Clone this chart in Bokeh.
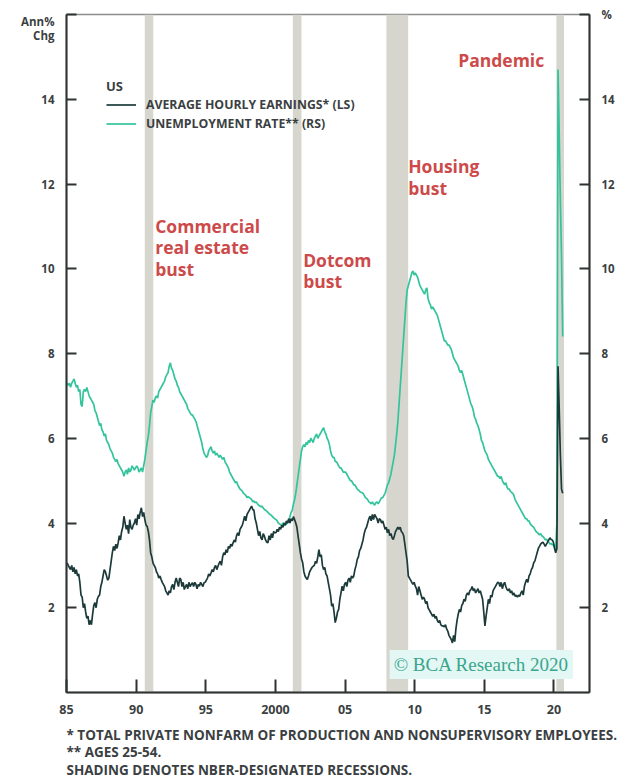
from bokeh.plotting import figure
from bokeh.models import (Range1d, LinearAxis, FixedTicker, Label, Legend, LegendItem,
                          BoxAnnotation, Title)
from bokeh.embed import file_html
from bokeh.resources import INLINE

# ---- data, monthly from Jan 1985 ----
start_year = 1985
earnings = [
    3.06, 3.0, 2.95, 2.9, 3.0, 2.85, 2.95, 2.8, 2.9, 2.75, 2.8, 2.6,      # 1985
    2.3, 2.25, 2.0, 2.1, 1.9, 1.75, 1.8, 1.6, 1.7, 1.6, 1.85, 2.05,       # 1986
    2.12, 2.0, 2.2, 2.27, 2.3, 2.5, 2.6, 2.75, 2.9, 2.85, 2.75, 2.65,     # 1987
    2.7, 2.9, 3.1, 3.3, 3.45, 3.35, 3.5, 3.4, 3.53, 3.7, 3.6, 3.8,        # 1988
    3.9, 4.16, 4.0, 3.85, 3.95, 3.75, 4.08, 3.9, 3.85, 3.95, 4.0, 4.1,    # 1989
    3.95, 4.2, 4.1, 4.25, 4.36, 4.15, 4.25, 4.08, 3.95, 3.92, 3.8, 3.6,   # 1990
    3.3, 3.2, 3.06, 3.0, 2.95, 2.85, 2.8, 2.7, 2.75, 2.67, 2.6, 2.55,     # 1991
    2.5, 2.4, 2.35, 2.3, 2.4, 2.35, 2.5, 2.55, 2.43, 2.6, 2.7, 2.6,       # 1992
    2.5, 2.7, 2.67, 2.5, 2.6, 2.43, 2.5, 2.55, 2.45, 2.6, 2.5, 2.55,      # 1993
    2.59, 2.5, 2.6, 2.55, 2.45, 2.55, 2.51, 2.6, 2.55, 2.5, 2.59, 2.6,    # 1994
    2.65, 2.7, 2.8, 2.75, 2.82, 2.9, 2.85, 2.95, 3.0, 2.9, 2.98, 3.05,    # 1995
    3.1, 3.0, 3.2, 3.3, 3.25, 3.37, 3.3, 3.45, 3.4, 3.5, 3.45, 3.53,      # 1996
    3.6, 3.55, 3.7, 3.77, 3.7, 3.85, 3.9, 3.95, 4.05, 4.16, 4.05, 4.2,    # 1997
    4.25, 4.3, 4.35, 4.4, 4.32, 4.3, 4.1, 4.0, 3.85, 3.7, 3.8, 3.65,      # 1998
    3.6, 3.75, 3.69, 3.6, 3.55, 3.53, 3.7, 3.6, 3.75, 3.65, 3.8, 3.77,    # 1999
    3.77, 3.85, 3.8, 3.9, 3.85, 3.95, 3.9, 4.0, 3.95, 4.05, 4.0, 4.1,     # 2000
    4.0, 4.1, 4.05, 4.15, 4.08, 4.0, 3.9, 3.69, 3.5, 3.3, 3.15, 3.06,     # 2001
    2.85, 2.75, 2.7, 2.67, 2.75, 2.85, 2.9, 2.95, 2.98, 3.0, 3.1, 3.05,   # 2002
    3.2, 3.37, 3.2, 3.25, 3.0, 2.9, 2.95, 2.8, 2.75, 2.6, 2.45, 2.3,      # 2003
    2.04, 2.1, 1.9, 1.65, 1.75, 1.9, 1.96, 2.2, 2.35, 2.51, 2.4, 2.55,    # 2004
    2.6, 2.5, 2.65, 2.7, 2.6, 2.75, 2.7, 2.75, 2.9, 3.0, 3.14, 3.2,       # 2005
    3.35, 3.4, 3.5, 3.6, 3.75, 3.85, 3.9, 4.0, 4.1, 4.16, 4.05, 4.2,      # 2006
    4.08, 4.2, 4.15, 4.1, 4.0, 4.1, 4.08, 4.0, 4.05, 3.95, 3.85, 3.9,     # 2007
    3.77, 3.85, 3.7, 3.75, 3.65, 3.61, 3.7, 3.8, 3.85, 3.9, 3.85, 3.9,    # 2008
    3.8, 3.77, 3.7, 3.5, 3.3, 3.1, 2.75, 2.7, 2.65, 2.6, 2.55, 2.6,       # 2009
    2.51, 2.45, 2.3, 2.5, 2.4, 2.3, 2.2, 2.25, 2.2, 2.1, 2.15, 2.0,       # 2010
    1.95, 1.9, 1.85, 1.8, 1.85, 1.75, 1.8, 1.7, 1.65, 1.7, 1.6, 1.57,     # 2011
    1.57, 1.55, 1.6, 1.5, 1.45, 1.35, 1.3, 1.25, 1.17, 1.35, 1.2, 1.5,    # 2012
    1.7, 1.85, 1.96, 1.9, 2.05, 2.1, 2.2, 2.15, 2.3, 2.35, 2.3, 2.4,      # 2013
    2.43, 2.5, 2.4, 2.45, 2.35, 2.4, 2.45, 2.35, 2.4, 2.3, 2.2, 1.9,      # 2014
    1.57, 1.8, 2.0, 2.2, 2.1, 2.3, 2.25, 2.4, 2.45, 2.5, 2.55, 2.6,       # 2015
    2.59, 2.5, 2.6, 2.45, 2.55, 2.6, 2.5, 2.43, 2.4, 2.45, 2.35, 2.4,     # 2016
    2.3, 2.35, 2.27, 2.3, 2.25, 2.3, 2.27, 2.35, 2.4, 2.3, 2.5, 2.6,      # 2017
    2.67, 2.6, 2.75, 2.8, 2.9, 2.95, 3.06, 3.1, 3.2, 3.3, 3.4, 3.45,      # 2018
    3.5, 3.53, 3.55, 3.5, 3.45, 3.5, 3.55, 3.6, 3.65, 3.61, 3.6, 3.55,    # 2019
    3.4, 3.3, 3.4, 7.7, 6.7, 5.6, 4.8, 4.7,                               # 2020
]
unemployment = [
    7.3, 7.25, 7.3, 7.2, 7.3, 7.35, 7.4, 7.3, 7.2, 7.25, 7.1, 7.15,       # 1985
    6.8, 6.75, 7.1, 7.15, 7.1, 7.2, 7.1, 7.0, 6.95, 6.9, 6.85, 6.8,       # 1986
    6.65, 6.6, 6.5, 6.4, 6.3, 6.35, 6.2, 6.15, 6.05, 6.1, 5.95, 5.9,      # 1987
    5.85, 5.75, 5.7, 5.65, 5.55, 5.5, 5.45, 5.5, 5.4, 5.35, 5.3, 5.25,    # 1988
    5.2, 5.1, 5.2, 5.25, 5.15, 5.3, 5.2, 5.25, 5.35, 5.3, 5.25, 5.3,      # 1989
    5.35, 5.3, 5.2, 5.25, 5.3, 5.2, 5.35, 5.5, 5.7, 5.9, 6.05, 6.3,       # 1990
    6.6, 6.75, 6.9, 6.85, 6.95, 7.0, 6.95, 7.1, 7.15, 7.2, 7.25, 7.3,     # 1991
    7.35, 7.45, 7.5, 7.55, 7.7, 7.78, 7.65, 7.6, 7.5, 7.4, 7.35, 7.25,    # 1992
    7.2, 7.1, 7.05, 7.0, 6.95, 6.9, 6.85, 6.8, 6.7, 6.65, 6.6, 6.55,      # 1993
    6.55, 6.5, 6.45, 6.4, 6.3, 6.2, 6.1, 6.0, 5.9, 5.75, 5.65, 5.6,       # 1994
    5.55, 5.58, 5.7, 5.75, 5.8, 5.7, 5.65, 5.7, 5.6, 5.65, 5.6, 5.55,     # 1995
    5.6, 5.55, 5.5, 5.55, 5.45, 5.4, 5.35, 5.3, 5.2, 5.15, 5.1, 5.05,     # 1996
    5.0, 4.95, 4.98, 4.9, 4.85, 4.8, 4.78, 4.75, 4.7, 4.68, 4.65, 4.6,    # 1997
    4.62, 4.6, 4.58, 4.55, 4.5, 4.52, 4.48, 4.5, 4.45, 4.42, 4.4, 4.38,   # 1998
    4.4, 4.35, 4.32, 4.3, 4.28, 4.25, 4.22, 4.2, 4.18, 4.15, 4.12, 4.1,   # 1999
    4.08, 4.05, 4.0, 3.98, 3.96, 3.95, 4.0, 3.97, 3.95, 3.98, 4.0, 4.05,  # 2000
    4.15, 4.25, 4.3, 4.45, 4.55, 4.7, 4.9, 5.1, 5.3, 5.5, 5.7, 5.8,       # 2001
    5.85, 5.8, 5.9, 5.85, 5.95, 5.9, 6.0, 5.95, 5.9, 6.0, 6.05, 6.1,      # 2002
    6.0, 6.05, 6.1, 6.15, 6.2, 6.25, 6.15, 6.1, 6.0, 5.95, 5.85, 5.7,     # 2003
    5.6, 5.55, 5.55, 5.45, 5.45, 5.4, 5.35, 5.3, 5.3, 5.25, 5.2, 5.2,     # 2004
    5.2, 5.15, 5.1, 5.05, 5.0, 5.0, 4.95, 4.9, 4.9, 4.85, 4.8, 4.78,      # 2005
    4.75, 4.72, 4.72, 4.7, 4.65, 4.6, 4.58, 4.55, 4.5, 4.48, 4.45, 4.5,   # 2006
    4.45, 4.42, 4.48, 4.5, 4.45, 4.5, 4.55, 4.6, 4.6, 4.65, 4.7, 4.8,     # 2007
    4.9, 4.95, 5.05, 5.15, 5.3, 5.45, 5.6, 5.85, 6.1, 6.4, 6.8, 7.2,      # 2008
    7.6, 8.0, 8.4, 8.8, 9.2, 9.5, 9.6, 9.7, 9.8, 9.9, 9.95, 9.85,         # 2009
    9.9, 9.85, 9.8, 9.7, 9.6, 9.55, 9.5, 9.45, 9.4, 9.5, 9.55, 9.3,       # 2010
    9.2, 9.15, 9.05, 9.1, 9.05, 9.0, 8.95, 8.9, 8.8, 8.7, 8.6, 8.5,       # 2011
    8.4, 8.3, 8.3, 8.25, 8.2, 8.2, 8.15, 8.1, 8.0, 7.9, 7.85, 7.8,        # 2012
    7.75, 7.7, 7.6, 7.55, 7.6, 7.5, 7.4, 7.3, 7.2, 7.1, 7.0, 6.9,         # 2013
    6.8, 6.75, 6.65, 6.5, 6.45, 6.35, 6.3, 6.2, 6.1, 5.95, 5.9, 5.8,      # 2014
    5.7, 5.65, 5.6, 5.5, 5.45, 5.4, 5.35, 5.3, 5.25, 5.2, 5.15, 5.1,      # 2015
    5.1, 5.05, 5.1, 5.0, 4.95, 4.9, 4.95, 4.85, 4.8, 4.8, 4.75, 4.72,     # 2016
    4.7, 4.65, 4.55, 4.5, 4.45, 4.4, 4.35, 4.3, 4.25, 4.2, 4.15, 4.1,     # 2017
    4.1, 4.05, 4.05, 3.98, 3.95, 3.92, 3.9, 3.85, 3.8, 3.78, 3.75, 3.72,  # 2018
    3.75, 3.7, 3.68, 3.65, 3.6, 3.62, 3.58, 3.55, 3.5, 3.52, 3.48, 3.5,   # 2019
    3.42, 3.38, 4.0, 14.7, 13.2, 11.6, 10.3, 8.4,                         # 2020
]
recession_start = [1990.62, 2001.25, 2007.97, 2020.17]
recession_end = [1991.23, 2001.87, 2009.53, 2020.72]
year_ticks = [1985, 1990, 1995, 2000, 2005, 2010, 2015, 2020]
year_labels = ["85", "90", "95", "2000", "05", "10", "15", "20"]
value_ticks = [2, 4, 6, 8, 10, 12, 14, 16]
left_unit = " \nAnn%\nChg"
right_unit = "%"
annotations = [
    ("Commercial\nreal estate\nbust", 1991.37, 11.3),
    ("Dotcom\nbust", 2001.99, 10.5),
    ("Housing\nbust", 2009.53, 12.71),
    ("Pandemic", 2013.12, 15.21),
]
copyright_text = "\u00a9 BCA Research 2020"
footnotes = [
    "* TOTAL PRIVATE NONFARM OF PRODUCTION AND NONSUPERVISORY EMPLOYEES.",
    "** AGES 25-54.",
    "SHADING DENOTES NBER-DESIGNATED RECESSIONS.",
]

dates = [start_year + (i + 0.5) / 12 for i in range(len(earnings))]
dates_u = [start_year + (i + 0.5) / 12 for i in range(len(unemployment))]

DARK = "#1c3a3a"
GREEN = "#33c49c"
RED = "#cd4a4a"
TXT = "#3b3f42"
FONT = "Open Sans"

p = figure(frame_width=523, frame_height=678, output_backend="svg", toolbar_location=None,
           x_range=Range1d(1985, 2022.55), y_range=Range1d(0, 16),
           min_border_left=66, min_border_right=30, min_border_top=14,
           min_border_bottom=2, background_fill_color="white",
           border_fill_color="white", y_axis_location=None, x_axis_location=None)
p.grid.visible = False
p.outline_line_color = "#8a8d8d"
p.outline_line_width = 1.5

for s, e in zip(recession_start, recession_end):
    p.add_layout(BoxAnnotation(left=s, right=e, fill_color="#d6d6cf",
                               fill_alpha=1.0, line_color=None, level="underlay"))

r_u = p.line(dates_u, unemployment, line_color=GREEN, line_width=1.7)
r_e = p.line(dates, earnings, line_color=DARK, line_width=1.7)

def style_axis(ax):
    ax.axis_line_color = "#2f3333"
    ax.axis_line_width = 2
    ax.major_tick_line_color = "#2f3333"
    ax.major_tick_line_width = 2
    ax.major_tick_out = 0
    ax.minor_tick_line_color = None
    ax.major_label_text_font = FONT
    ax.major_label_text_font_style = "bold"
    ax.major_label_text_color = TXT
    ax.major_label_text_font_size = "11.5px"

xa = LinearAxis(ticker=FixedTicker(ticks=year_ticks),
                major_label_overrides={t: l for t, l in zip(year_ticks, year_labels)})
style_axis(xa)
xa.major_tick_in = 13
xa.major_label_standoff = 12
xa.major_label_text_font_size = "12.5px"
p.add_layout(xa, "below")

ylab = {t: (left_unit if t == 16 else str(t)) for t in value_ticks}
ya = LinearAxis(ticker=FixedTicker(ticks=value_ticks), major_label_overrides=ylab)
style_axis(ya)
ya.major_tick_in = 10
ya.major_label_standoff = 12
ya.major_label_text_line_height = 0.93
p.add_layout(ya, "left")

ylab2 = {t: (right_unit if t == 16 else str(t)) for t in value_ticks}
ya2 = LinearAxis(ticker=FixedTicker(ticks=value_ticks), major_label_overrides=ylab2)
style_axis(ya2)
ya2.major_tick_in = 10
ya2.major_label_standoff = 12
p.add_layout(ya2, "right")

# legend
legend = Legend(items=[LegendItem(label="AVERAGE HOURLY EARNINGS* (LS)", renderers=[r_e]),
                       LegendItem(label="UNEMPLOYMENT RATE** (RS)", renderers=[r_u])],
                title="US", location=(40, 559), orientation="vertical",
                background_fill_alpha=0, border_line_color=None,
                padding=0, margin=0, spacing=0, glyph_width=30, glyph_height=19,
                label_height=19, label_standoff=10, title_standoff=-6,
                label_text_font=FONT, label_text_font_style="bold",
                label_text_font_size="12.3px", label_text_color=TXT,
                title_text_font=FONT, title_text_font_style="bold",
                title_text_font_size="13px", title_text_color=TXT)
p.add_layout(legend, "center")

for txt, x, y in annotations:
    p.add_layout(Label(x=x, y=y, text=txt, text_align="left", text_baseline="top",
                       text_font=FONT, text_font_style="bold", text_font_size="17.5px",
                       text_color=RED, text_line_height=0.9))

p.add_layout(Label(x=2008.2, y=0.66, text=copyright_text, text_align="left",
                   text_baseline="middle", text_font="Liberation Serif",
                   text_font_size="19px", text_color="#3aa58c", padding=4,
                   background_fill_color="#e3f7f4", background_fill_alpha=1.0))

p.add_layout(Title(text="\n".join(footnotes), align="left", text_font=FONT,
                   text_font_style="bold", text_font_size="13.5px", text_color=TXT,
                   text_line_height=0.98, standoff=15, offset=0), "below")

open("out.html", "w").write(file_html(p, INLINE))
